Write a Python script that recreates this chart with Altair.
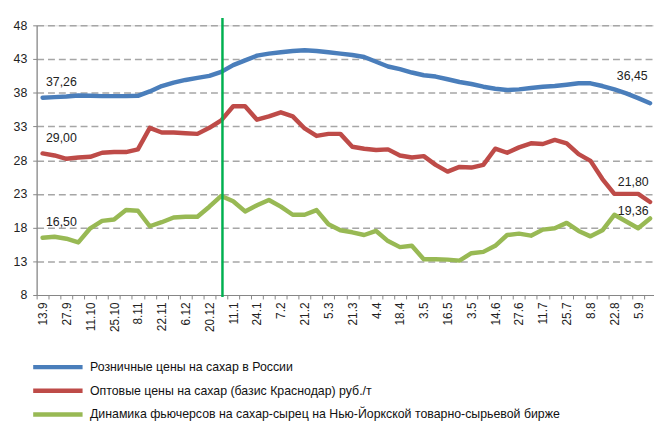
import altair as alt
import pandas as pd

dates = ["13.9", "27.9", "11.10", "25.10", "8.11", "22.11", "6.12", "20.12", "11.1", "24.1",
         "7.2", "21.2", "5.3", "21.3", "4.4", "18.4", "3.5", "16.5", "3.5", "14.6",
         "27.6", "11.7", "25.7", "8.8", "22.8", "5.9"]

retail = [37.26, 37.35, 37.45, 37.6, 37.55, 37.5, 37.5, 37.5, 37.55, 38.2,
          39.0, 39.5, 39.9, 40.2, 40.5, 41.1, 42.1, 42.8, 43.5, 43.8,
          44.0, 44.2, 44.3, 44.2, 44.0, 43.8, 43.6, 43.3, 42.6, 41.9,
          41.5, 41.0, 40.6, 40.4, 40.0, 39.6, 39.3, 38.9, 38.6, 38.4,
          38.5, 38.7, 38.9, 39.0, 39.2, 39.4, 39.4, 39.0, 38.5, 37.9,
          37.2, 36.45]

wholesale = [29.0, 28.7, 28.2, 28.4, 28.5, 29.1, 29.2, 29.2, 29.6, 32.8,
             32.1, 32.1, 32.0, 31.9, 32.8, 33.9, 36.0, 36.0, 34.0, 34.5,
             35.1, 34.5, 32.7, 31.6, 31.9, 31.9, 30.0, 29.7, 29.5, 29.6,
             28.7, 28.4, 28.6, 27.3, 26.3, 27.0, 26.9, 27.3, 29.7, 29.1,
             29.9, 30.5, 30.4, 31.0, 30.5, 28.9, 27.9, 25.2, 23.0, 23.0,
             23.0, 21.8]

futures = [16.5, 16.65, 16.35, 15.8, 17.9, 19.0, 19.2, 20.6, 20.5, 18.2,
           18.8, 19.5, 19.6, 19.6, 21.1, 22.7, 21.9, 20.4, 21.3, 22.1,
           21.1, 19.9, 19.9, 20.6, 18.5, 17.6, 17.3, 16.9, 17.5, 16.0,
           15.1, 15.3, 13.3, 13.3, 13.25, 13.1, 14.2, 14.4, 15.3, 16.9,
           17.1, 16.8, 17.7, 17.9, 18.7, 17.5, 16.7, 17.6, 19.9, 18.9,
           17.9, 19.36]

series_names = ["Розничные цены на сахар в России",
                "Оптовые цены на сахар (базис Краснодар) руб./т",
                "Динамика фьючерсов на сахар-сырец на Нью-Йоркской товарно-сырьевой бирже"]
colors = ["#4A7EBB", "#BE4B48", "#98B954"]

marker_x = [15.1]
marker_top = [49.1]
marker_bottom = [7.7]

y_ticks = [8, 13, 18, 23, 28, 33, 38, 43, 48]

n = len(retail)
rows = []
for s, vals in zip(series_names, [retail, wholesale, futures]):
    for i in range(n):
        rows.append({"i": i, "v": vals[i], "s": s})
df = pd.DataFrame(rows)


def fmt(v):
    return f"{v:.2f}".replace(".", ",")


first_df = pd.DataFrame([{"i": 0, "v": vals[0], "t": fmt(vals[0])}
                         for vals in [retail, wholesale, futures]])
last_vals = [retail[-1], wholesale[-1], futures[-1]]

x_scale = alt.Scale(domain=[-0.5, 51.33], nice=False, zero=False)
y_scale = alt.Scale(domain=[8, 48], nice=False, zero=False)

label_js = "[" + ",".join(f"'{d}'" for d in dates) + "]"
x_axis = alt.Axis(
    values=[k / 2 for k in range(-1, 102)],
    tickCount=500,
    labelExpr=f"datum.value % 2 === 0 ? {label_js}[datum.value / 2] : ''",
    labelAngle=270, labelAlign="right", labelBaseline="middle",
    tickOpacity={"condition": {"test": "datum.value % 1 !== 0", "value": 1}, "value": 0},
    tickSize=4, tickColor="#868686", tickWidth=1,
    domainColor="#868686", domainWidth=1.2,
    grid=False, title=None, labelOverlap=False, labelFlush=False,
    labelPadding=3, labelFontSize=12, labelFont="Liberation Sans", labelColor="#222222",
)
y_axis = alt.Axis(
    values=y_ticks, tickCount=50, grid=True, gridDash=[7, 4], gridColor="#A6A6A6", gridWidth=1.5,
    gridOpacity={"condition": {"test": "datum.value === 8", "value": 0}, "value": 1},
    tickSize=4, tickColor="#868686", domainColor="#868686", domainWidth=1.2,
    title=None, labelPadding=6, labelFontSize=12.5, labelFont="Liberation Sans",
    labelColor="#222222", labelOverlap=False,
)

base = alt.Chart(df)
lines = base.mark_line(strokeWidth=4.5, strokeCap="round", strokeJoin="round").encode(
    x=alt.X("i:Q", scale=x_scale, axis=x_axis),
    y=alt.Y("v:Q", scale=y_scale, axis=y_axis),
    color=alt.Color(
        "s:N",
        scale=alt.Scale(domain=series_names, range=colors),
        sort=series_names,
        legend=alt.Legend(
            orient="none", legendX=-6, legendY=339, direction="vertical", title=None,
            symbolType="stroke", symbolSize=2500, symbolStrokeWidth=4.5,
            clipHeight=14, rowPadding=10, labelFontSize=12.5,
            labelFont="Liberation Sans", labelLimit=0,
            labelOffset=5, labelColor="#111111",
        ),
    ),
)

marker_df = pd.DataFrame({"x": marker_x, "top": marker_top, "bottom": marker_bottom})
rule = alt.Chart(marker_df).mark_rule(color="#00B050", strokeWidth=2.5).encode(
    x="x:Q", y="top:Q", y2="bottom:Q"
)

text_style = dict(fontSize=12.5, font="Liberation Sans", color="#222222", baseline="middle")
first_labels = alt.Chart(first_df).mark_text(dx=19, dy=-16, **text_style).encode(
    x="i:Q", y="v:Q", text="t:N"
)

last_offsets = [(-18, -27), (-17, -20), (-17, -7)]
last_layers = []
for v, (dx, dy) in zip(last_vals, last_offsets):
    d = pd.DataFrame([{"i": n - 1, "v": v, "t": fmt(v)}])
    last_layers.append(
        alt.Chart(d).mark_text(dx=dx, dy=dy, **text_style).encode(x="i:Q", y="v:Q", text="t:N")
    )

chart = alt.layer(lines, rule, first_labels, *last_layers).properties(
    width=625, height=273,
    padding={"left": 29, "top": 15, "right": 0, "bottom": 125},
    autosize=alt.AutoSizeParams(type="none"),
).configure_view(stroke=None).configure(background="white")

chart.save("out.html", embed_options={"renderer": "svg", "actions": False})
